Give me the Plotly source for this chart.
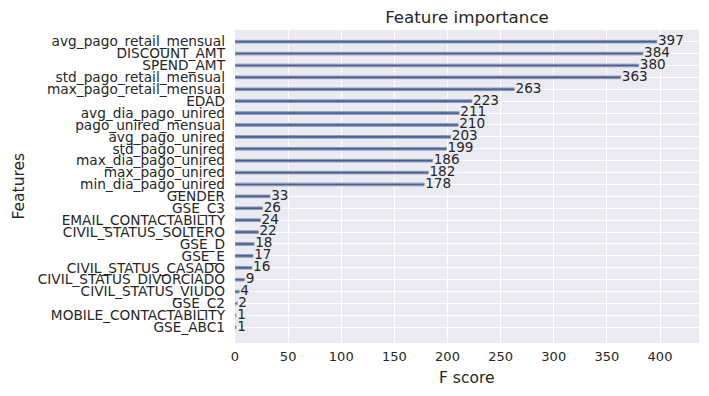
import plotly.graph_objects as go

features = ["GSE_ABC1", "MOBILE_CONTACTABILITY", "GSE_C2", "CIVIL_STATUS_VIUDO",
            "CIVIL_STATUS_DIVORCIADO", "CIVIL_STATUS_CASADO", "GSE_E", "GSE_D",
            "CIVIL_STATUS_SOLTERO", "EMAIL_CONTACTABILITY", "GSE_C3", "GENDER",
            "min_dia_pago_unired", "max_pago_unired", "max_dia_pago_unired",
            "std_pago_unired", "avg_pago_unired", "pago_unired_mensual",
            "avg_dia_pago_unired", "EDAD", "max_pago_retail_mensual",
            "std_pago_retail_mensual", "SPEND_AMT", "DISCOUNT_AMT",
            "avg_pago_retail_mensual"]
scores = [1, 1, 2, 4, 9, 16, 17, 18, 22, 24, 26, 33, 178, 182, 186, 199, 203,
          210, 211, 223, 263, 363, 380, 384, 397]
xticks = [0, 50, 100, 150, 200, 250, 300, 350, 400]

pos = list(range(len(features)))
n = len(features)
xmax = max(scores) * 1.1

OFF = 8  # page body margin offset
W, H = 709, 396
L, T = 235 - OFF, 30 - OFF
R = W - (699 - OFF)
B = H - (343 - OFF)

fig = go.Figure()
fig.add_trace(go.Bar(
    x=scores, y=pos, orientation="h", width=0.22,
    marker=dict(color="#3F63A6", line=dict(color="#9a9aa6", width=1)),
    hoverinfo="skip", showlegend=False,
))
fig.add_trace(go.Scatter(
    x=[s + 1 for s in scores], y=pos, mode="text", text=[str(s) for s in scores],
    textposition="middle right", cliponaxis=False,
    textfont=dict(family="DejaVu Sans", size=13.6, color="#262626"),
    hoverinfo="skip", showlegend=False,
))

pw, ph = W - L - R, H - T - B
fig.update_layout(
    width=W, height=H,
    margin=dict(l=L, r=R, t=T, b=B, autoexpand=False),
    paper_bgcolor="white", plot_bgcolor="#EAEAF2",
    font=dict(family="DejaVu Sans", size=13, color="#262626"),
    title=dict(text="Feature importance", x=(L + W - R) / 2 / W, xanchor="center",
               y=1 - (17 - OFF) / H, yanchor="middle", font=dict(size=16.7, color="#262626")),
    annotations=[
        dict(text="Features", xref="paper", yref="paper", x=-(L - (18 - OFF)) / pw,
             y=0.5, xanchor="center", yanchor="middle", textangle=-90, showarrow=False,
             font=dict(size=15.5, color="#262626")),
        dict(text="F score", xref="paper", yref="paper", x=0.5,
             y=-((378 - OFF) - (H - B)) / ph, xanchor="center", yanchor="middle",
             showarrow=False, font=dict(size=15.5, color="#262626")),
    ],
)
fig.update_xaxes(
    range=[0, xmax], tickvals=xticks,
    showgrid=True, gridcolor="white", gridwidth=1, zeroline=False,
    showline=False, ticks="", tickfont=dict(size=13), automargin=False,
    ticklabelstandoff=4,
)
fig.update_yaxes(
    range=[-1.32, n - 1 + 0.98], tickvals=pos, ticktext=features,
    showgrid=True, gridcolor="white", gridwidth=1, zeroline=False,
    showline=False, ticks="", tickfont=dict(size=13.7), automargin=False,
    ticklabelstandoff=9,
)
fig.write_html("out.html")
